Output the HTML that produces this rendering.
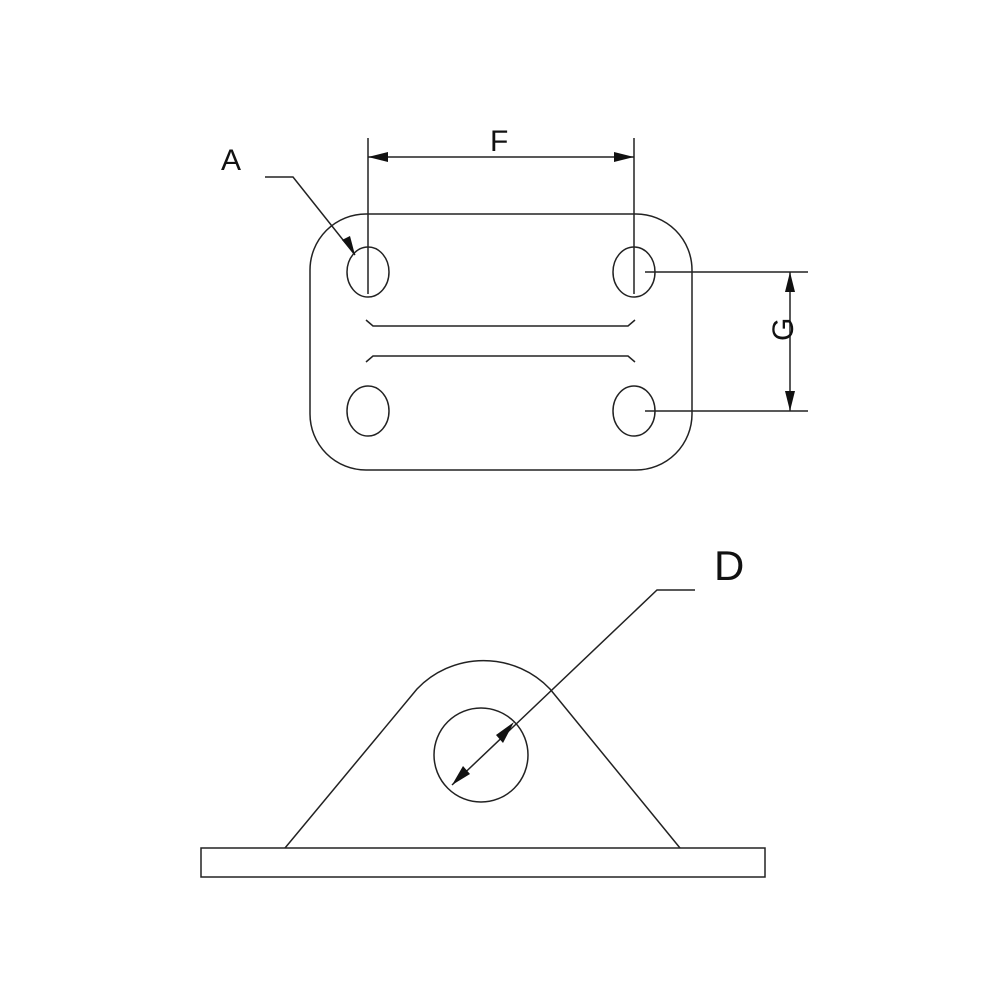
<!DOCTYPE html>
<html><head><style>body{margin:0;background:#fff} text{font-family:"Liberation Sans",Arial,sans-serif}</style></head><body>
<svg width="1000" height="1000" viewBox="0 0 1000 1000" xmlns="http://www.w3.org/2000/svg">
<g fill="none" stroke="#222" stroke-width="1.5">
<rect x="310" y="214" width="382" height="256" rx="56" ry="56"/>
<ellipse cx="368" cy="272" rx="21" ry="25"/>
<ellipse cx="634" cy="272" rx="21" ry="25"/>
<ellipse cx="368" cy="411" rx="21" ry="25"/>
<ellipse cx="634" cy="411" rx="21" ry="25"/>
<path d="M366 320 L373 326 L628 326 L635 320"/>
<path d="M366 362 L373 356 L628 356 L635 362"/>
<line x1="368" y1="138" x2="368" y2="294"/>
<line x1="634" y1="138" x2="634" y2="294"/>
<line x1="368" y1="157" x2="634" y2="157"/>
<line x1="645" y1="272" x2="808" y2="272"/>
<line x1="645" y1="411" x2="808" y2="411"/>
<line x1="790" y1="272" x2="790" y2="411"/>
<polyline points="265,177 293,177 355,255"/>
<rect x="201" y="848" width="564" height="29"/>
<path d="M285 848 L417 689 A92 92 0 0 1 550 689 L680 848"/>
<circle cx="481" cy="755" r="47"/>
<polyline points="695,590 657,590 452,785"/>
</g>
<g fill="#111">
<polygon points="368,157 388,152 388,162"/>
<polygon points="634,157 614,152 614,162"/>
<polygon points="790,272 785,292 795,292"/>
<polygon points="790,411 785,391 795,391"/>
<polygon points="355,255 342,240 350,236"/>
<polygon points="514,722 496,735 503,743"/>
<polygon points="452,785 463,766 470,774"/>
</g>
<g fill="#111">
<text x="221" y="170" font-size="30">A</text>
<text x="490" y="151" font-size="30">F</text>
<text x="782" y="352" font-size="30" transform="rotate(-90 782 341)">G</text>
<text x="714" y="580" font-size="42">D</text>
</g>
</svg>
</body></html>
